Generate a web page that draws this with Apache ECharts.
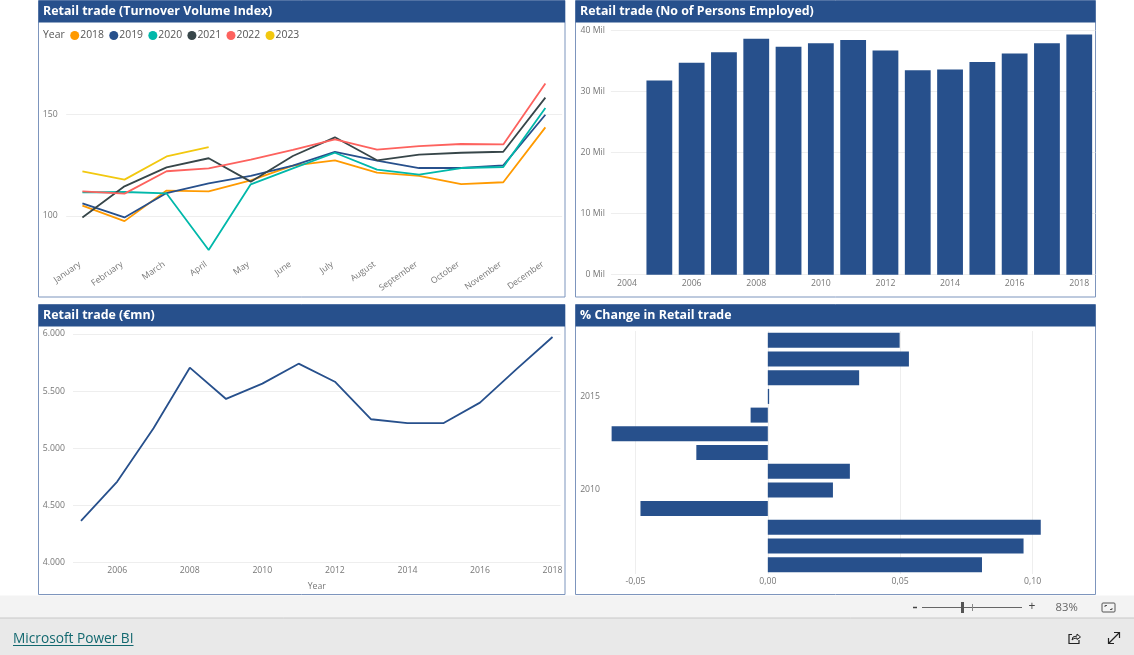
<!DOCTYPE html>
<html><head><meta charset="utf-8">
<script src="https://cdn.jsdelivr.net/npm/echarts@6/dist/echarts.min.js"></script>
<style>html,body{margin:0;padding:0;background:#fff}#c{width:1134px;height:655px}</style>
</head><body><div id="c"></div>
<script>
const months=['January','February','March','April','May','June','July','August','September','October','November','December'];
const idx2018=[105.1,97.5,112.5,112.1,117.5,124.8,127.4,121.3,119.7,115.7,116.6,143.6];
const idx2019=[106.2,99.3,111.3,116.1,119.7,124.8,131.5,127.2,123.6,123.6,124.9,149.8];
const idx2020=[111.6,111.8,111.1,83.3,115.6,123.4,131.1,122.8,120.3,123.6,124.1,153.1];
const idx2021=[99.3,114.6,123.9,128.4,116.9,129.5,138.7,127.4,130.2,131.1,131.6,158.2];
const idx2022=[112.1,111,122,123.4,127.7,132.5,137.7,132.6,134.4,135.4,135.2,165.2];
const idx2023=[122,117.9,129.3,133.9];
const empYears=['2004','2005','2006','2007','2008','2009','2010','2011','2012','2013','2014','2015','2016','2017','2018'];
const employed=[null,31.8,34.7,36.4,38.6,37.3,37.9,38.4,36.7,33.45,33.6,34.8,36.2,37.9,39.3];
const mnYears=[2005,2006,2007,2008,2009,2010,2011,2012,2013,2014,2015,2016,2017,2018];
const turnover=[4362,4707,5174,5705,5431,5565,5740,5582,5253,5220,5220,5399,5690,5974];
const chgYears=['2006','2007','2008','2009','2010','2011','2012','2013','2014','2015','2016','2017','2018'];
const change=[0.0809,0.0966,0.1031,-0.0481,0.0246,0.031,-0.027,-0.059,-0.0065,0.0005,0.0345,0.0533,0.0498];
const titles=['Retail trade (Turnover Volume Index)','Retail trade (No of Persons Employed)','Retail trade (€mn)','% Change in Retail trade'];

const NAVY='#27508C',F='"Open Sans",sans-serif',LC='#777',GL='#eeeeee';
const lab={color:LC,fontFamily:F,fontSize:8.7};
const split={show:true,lineStyle:{color:GL,width:1}};
const none={show:false};
const panels=[[38.5,0.5,526.5,296.5],[575.5,0.5,520,296.5],[38.5,304.5,526.5,290],[575.5,304.5,520,290]];
const graphic=[];
panels.forEach(p=>{
  graphic.push({type:'rect',shape:{x:p[0],y:p[1],width:p[2],height:p[3]},style:{fill:'none',stroke:'#7d95bd',lineWidth:1},silent:true});
  graphic.push({type:'rect',shape:{x:p[0],y:p[1],width:p[2],height:22},style:{fill:NAVY},silent:true});
});
graphic.push({type:'text',x:43,y:35,style:{text:'Year',fill:'#555',font:'10.4px '+F,textVerticalAlign:'middle'},silent:true});
const FC='#444';
const line=(x1,y1,x2,y2,c,w)=>({type:'line',shape:{x1,y1,x2,y2},style:{stroke:c||FC,lineWidth:w||1},silent:true});
graphic.push(
 {type:'rect',shape:{x:0,y:595.5,width:1134,height:22.5},style:{fill:'#f3f3f3'},silent:true},
 {type:'rect',shape:{x:0,y:618,width:1134,height:37},style:{fill:'#e9e9e9'},silent:true},
 line(0,618,1134,618,'#c8c8c8',1),
 line(913,607.5,917,607.5,'#444',1.5),
 line(922,607.5,1022,607.5,'#666',1),
 line(972.5,604,972.5,611,'#888',1),
 {type:'rect',shape:{x:961,y:602,width:3,height:11},style:{fill:'#555'},silent:true},
 {type:'text',x:1032,y:607,style:{text:'+',fill:'#444',font:'12px '+F,textAlign:'center',textVerticalAlign:'middle'},silent:true},
 {type:'text',x:1055.5,y:607.5,style:{text:'83%',fill:'#666',font:'11.3px '+F,textVerticalAlign:'middle'},silent:true},
 {type:'rect',shape:{x:1102,y:603,width:13,height:9,r:1},style:{fill:'none',stroke:'#555',lineWidth:1},silent:true},
 {type:'polyline',shape:{points:[[1105,607],[1105,605.5],[1107,605.5]]},style:{fill:'none',stroke:'#555',lineWidth:1},silent:true},
 {type:'polyline',shape:{points:[[1110,609.5],[1112,609.5],[1112,608]]},style:{fill:'none',stroke:'#555',lineWidth:1},silent:true},
 {type:'text',x:13,y:639.5,style:{text:'Microsoft Power BI',fill:'#12686f',font:'13.7px '+F,textVerticalAlign:'middle'},silent:true},
 line(13,645.5,133.5,645.5,'#12686f',1),
 {type:'polyline',shape:{points:[[1072,634.5],[1069,634.5],[1069,643.5],[1079,643.5],[1079,640]]},style:{fill:'none',stroke:'#222',lineWidth:1.2},silent:true},
 {type:'polyline',shape:{points:[[1072,640],[1073,637],[1077,636],[1077,634],[1080.5,637],[1077,639.5],[1077,638],[1074,638.5],[1072,640]]},style:{fill:'none',stroke:'#222',lineWidth:1},silent:true},
 line(1108.5,643.5,1119.5,632.5,'#222',1.2),
 {type:'polyline',shape:{points:[[1108.5,638],[1108.5,643.5],[1114,643.5]]},style:{fill:'none',stroke:'#222',lineWidth:1.2},silent:true},
 {type:'polyline',shape:{points:[[1114,632.5],[1119.5,632.5],[1119.5,638]]},style:{fill:'none',stroke:'#222',lineWidth:1.2},silent:true}
);
const yearColors=['#FF9A00','#27508C','#01B8AA','#374649','#FD625E','#F2C80F'];
const idxData=[idx2018,idx2019,idx2020,idx2021,idx2022,idx2023];
const idxNames=['2018','2019','2020','2021','2022','2023'];
const series=idxData.map((d,i)=>({name:idxNames[i],type:'line',xAxisIndex:0,yAxisIndex:0,showSymbol:false,symbol:'none',
  data:d.map((v,k)=>[k,v]),lineStyle:{width:1.8,color:yearColors[i]},itemStyle:{color:yearColors[i]}}));
series.push({type:'bar',xAxisIndex:1,yAxisIndex:1,data:employed,barWidth:25.8,itemStyle:{color:NAVY}});
series.push({type:'line',xAxisIndex:2,yAxisIndex:2,showSymbol:false,symbol:'none',data:mnYears.map((y,i)=>[y,turnover[i]]),lineStyle:{width:1.8,color:NAVY}});
series.push({type:'bar',xAxisIndex:3,yAxisIndex:3,data:change,barWidth:15,itemStyle:{color:NAVY}});

const H=655,W=1134;
const option={
 animation:false,textStyle:{fontFamily:F},
 title:titles.map((t,i)=>({text:t,left:panels[i][0]+4.5,top:panels[i][1]+3,padding:0,textStyle:{color:'#fff',fontFamily:F,fontWeight:'bold',fontSize:12.4,lineHeight:16}})),
 legend:{left:70.2,top:30.5,padding:0,icon:'circle',itemWidth:9,itemHeight:9,itemGap:5.3,data:idxNames,
   textStyle:{color:'#555',fontFamily:F,fontSize:10.4,padding:[0,0,0,-4]}},
 grid:[
  {left:66.2,right:W-562.2,top:53.3,bottom:H-256.7},
  {left:610.9,right:W-1095.4,top:30.3,bottom:H-274.7},
  {left:73,right:W-560.5,top:334,bottom:H-562.3},
  {left:605,right:W-1090,top:331,bottom:H-574}
 ],
 xAxis:[
  {gridIndex:0,type:'value',min:-0.385,max:11.4,splitLine:none,axisLine:none,axisTick:{show:false,customValues:months.map((m,i)=>i)},
   axisLabel:{...lab,customValues:months.map((m,i)=>i),rotate:35,margin:5,padding:[0,3,0,0],formatter:v=>months[v]}},
  {gridIndex:1,type:'category',data:empYears,axisLine:none,axisTick:none,splitLine:none,axisLabel:{...lab,interval:1,margin:4}},
  {gridIndex:2,type:'value',min:2004.78,max:2018.22,name:'Year',nameLocation:'middle',nameGap:20,nameTextStyle:{...lab},splitLine:none,axisLine:none,axisTick:{show:false,customValues:[2006,2008,2010,2012,2014,2016,2018]},
   axisLabel:{...lab,margin:4,customValues:[2006,2008,2010,2012,2014,2016,2018],formatter:v=>String(v)}},
  {gridIndex:3,type:'value',min:-0.0615,max:0.1217,splitLine:split,axisLine:none,axisTick:{show:false,customValues:[-0.05,0,0.05,0.1]},
   axisLabel:{...lab,margin:3,customValues:[-0.05,0,0.05,0.1],formatter:v=>v.toFixed(2).replace('.',',')}}
 ],
 yAxis:[
  {gridIndex:0,type:'value',min:80,max:180,splitLine:split,axisLine:none,axisTick:{show:false,customValues:[100,150]},axisLabel:{...lab,margin:8.5,padding:[4,0,0,0],customValues:[100,150]}},
  {gridIndex:1,type:'value',min:0,max:40,interval:10,splitLine:split,axisLine:none,axisTick:none,axisLabel:{...lab,margin:6,padding:[1,0,0,0],formatter:'{value} Mil'}},
  {gridIndex:2,type:'value',min:4000,max:6000,interval:500,splitLine:split,axisLine:none,axisTick:none,axisLabel:{...lab,margin:8,padding:[4,0,0,0],formatter:v=>(v/1000).toFixed(3)}},
  {gridIndex:3,type:'category',data:chgYears,axisLine:none,axisTick:none,splitLine:none,axisLabel:{...lab,margin:5,padding:[4,0,0,0],interval:(i,v)=>v==='2010'||v==='2015'}}
 ],
 graphic:{elements:graphic},
 series
};
const chart=echarts.init(document.getElementById('c'),null,{renderer:'canvas'});
chart.setOption(option);
</script></body></html>
